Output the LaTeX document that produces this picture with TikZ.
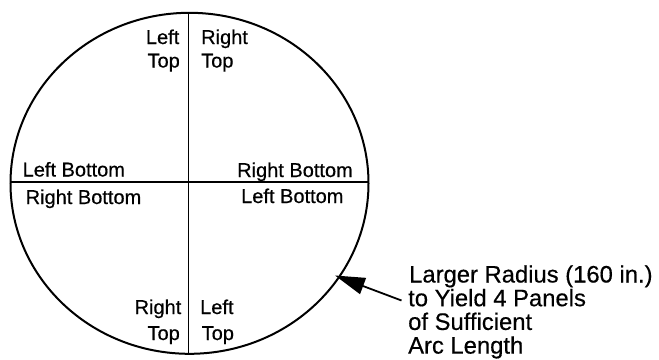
\documentclass[tikz,border=0pt]{standalone}
\usepackage{fontspec}
\setmainfont{Liberation Sans}[FakeBold=0.45]
\usetikzlibrary{arrows.meta}
\begin{document}
\begin{tikzpicture}[x=1pt,y=-1pt,
  lbl/.style={inner sep=0pt, font=\fontsize{20}{23}\selectfont},
  note/.style={inner sep=0pt, anchor=base west, font=\fontsize{23.8}{24}\selectfont},
  rim/.style={line width=2pt},
  divider/.style={line width=1.4pt}]
\useasboundingbox (0,0) rectangle (659,359);
% circle
\coordinate (c) at (189.5,183.3);
\draw[rim] (c) ellipse [x radius=179pt, y radius=170.5pt];
% dividers
\coordinate (vt) at (188.5,12.8);
\coordinate (vb) at (188.5,353.8);
\coordinate (hl) at (10.5,182);
\coordinate (hr) at (368.5,182);
\draw[divider] (vt) -- (vb);
\draw[divider] (hl) -- (hr);
% top quadrant labels
\node[lbl, anchor=base east] (tl1) at (179.5,44) {Left};
\node[lbl, anchor=base east] (tl2) at (180,67.5) {Top};
\node[lbl, anchor=base west] (tr1) at (201,44) {Right};
\node[lbl, anchor=base west] (tr2) at (201,67.5) {Top};
% middle labels
\node[lbl, anchor=base west] (ml1) at (22.5,176.5) {Left Bottom};
\node[lbl, anchor=base west] (ml2) at (25.5,204) {Right Bottom};
\node[lbl, anchor=base west] (mr1) at (237,177) {Right Bottom};
\node[lbl, anchor=base west] (mr2) at (241,203) {Left Bottom};
% bottom quadrant labels
\node[lbl, anchor=base east] (bl1) at (181.5,314) {Right};
\node[lbl, anchor=base east] (bl2) at (180,340) {Top};
\node[lbl, anchor=base west] (br1) at (200,314) {Left};
\node[lbl, anchor=base west] (br2) at (201.5,340) {Top};
% annotation
\node[note] (n1) at (409,282.5) {Larger Radius (160 in.)};
\node[note] (n2) at (408,306.2) {to Yield 4 Panels};
\node[note] (n3) at (408,329.9) {of Sufficient};
\node[note] (n4) at (408,353.6) {Arc Length};
\coordinate (tail) at (401.5,300.5);
\coordinate (tip) at (335,275.5);
\draw[line width=1.8pt, -{Triangle[length=30pt,width=17pt]}] (tail) -- (tip);
\end{tikzpicture}
\end{document}
